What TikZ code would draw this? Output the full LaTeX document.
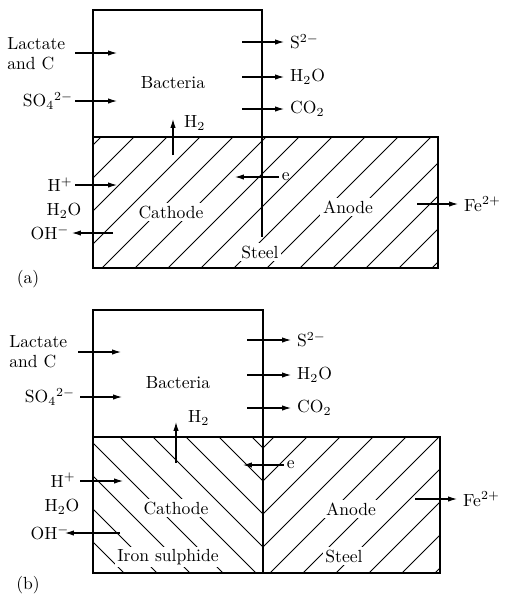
\documentclass[tikz,border=0pt]{standalone}
\usetikzlibrary{arrows.meta}

\begin{document}
\begin{tikzpicture}[x=0.02cm,y=-0.02cm,font=\fontsize{10}{11.5}\selectfont,
  >={Latex[length=5pt,width=3pt]},
  wall/.style={line width=1.1pt},
  hatch/.style={line width=0.5pt},
  flow/.style={->,line width=0.6pt},
  gap/.style={fill=white,inner sep=1.5pt},
  prod/.style={anchor=west}]
\useasboundingbox (0,0) rectangle (506,596);

% ---------- (a) ----------
\begin{scope}
  \clip (93,137) rectangle (438,268);
  \foreach \x in {-129,-96,...,432}
    \draw[hatch] (\x,268) -- ++(140,-140);
\end{scope}
\draw[wall] (93,137) rectangle (438,268);
\draw[wall] (93,137) -- (93,10) -- (262,10) -- (262,237);

\node (bacA) at (173,83) {Bacteria};
\node[gap] (catA) at (171,212) {Cathode};
\node[gap] (anoA) at (348,207) {Anode};
\node[gap] (steA) at (260,252) {Steel};
\node[align=left,anchor=west,inner sep=0pt] (lacA) at (7,54) {Lactate\\and C};
\node (so4A) at (48,101) {SO$_4{}^{2-}$};
\node (hpA) at (60,185) {H$^+$};
\node (h2oA) at (64,211) {H$_2$O};
\node (ohA) at (50,233) {OH$^-$};
\node[prod] (h2A) at (178,123) {H$_2$};
\node[prod] (s2A) at (284,42) {S$^{2-}$};
\node[prod] (wtA) at (284,77) {H$_2$O};
\node[prod] (co2A) at (284,109) {CO$_2$};
\node[prod,inner sep=1.5pt] (eA) at (279,177) {e};
\node[prod] (feA) at (458,204) {Fe$^{2+}$};
\node (capA) at (28,279) {(a)};

\coordinate (lacAt) at (75,53);   \coordinate (lacAh) at (117,53);
\coordinate (so4At) at (75,101);  \coordinate (so4Ah) at (117,101);
\coordinate (hpAt) at (75,185);   \coordinate (hpAh) at (117,185);
\coordinate (ohAt) at (113,233);  \coordinate (ohAh) at (72,233);
\coordinate (h2At) at (173,155);  \coordinate (h2Ah) at (173,119);
\coordinate (s2At) at (242,42);
\coordinate (wtAt) at (242,77);
\coordinate (co2At) at (242,109);
\coordinate (eAh) at (235,177);
\coordinate (feAt) at (417,204);

\draw[flow] (lacAt) -- (lacAh);
\draw[flow] (so4At) -- (so4Ah);
\draw[flow] (hpAt) -- (hpAh);
\draw[flow] (ohAt) -- (ohAh);
\draw[flow] (h2At) -- (h2Ah);
\draw[flow] (s2At) -- (s2A.west);
\draw[flow] (wtAt) -- (wtA.west);
\draw[flow] (co2At) -- (co2A.west);
\draw[flow] (eA.west) -- (eAh);
\draw[flow] (feAt) -- (feA.west);

% ---------- (b) ----------
\begin{scope}
  \clip (93,437) rectangle (440,573);
  \foreach \v in {448,481,...,778} {
    \draw[hatch] (263,\v) -- ++(-200,-200);
    \draw[hatch] (263,\v) -- ++(200,-200);
  }
\end{scope}
\draw[wall] (93,437) rectangle (440,573);
\draw[wall] (93,437) -- (93,310) -- (263,310) -- (263,573);

\node (bacB) at (178,383) {Bacteria};
\node[gap] (catB) at (176,508) {Cathode};
\node[gap] (irnB) at (168,557) {Iron sulphide};
\node[gap] (anoB) at (351,509) {Anode};
\node[gap] (steB) at (344,556) {Steel};
\node[align=left,anchor=west,inner sep=0pt] (lacB) at (9,352) {Lactate\\and C};
\node (so4B) at (50,397) {SO$_4{}^{2-}$};
\node (hpB) at (63,480) {H$^+$};
\node (h2oB) at (62,507) {H$_2$O};
\node (ohB) at (50,533) {OH$^-$};
\node[prod] (h2B) at (182,418) {H$_2$};
\node[prod] (s2B) at (291,340) {S$^{2-}$};
\node[prod] (wtB) at (291,375) {H$_2$O};
\node[prod] (co2B) at (291,408) {CO$_2$};
\node[prod,inner sep=1.5pt] (eB) at (284,465) {e};
\node[prod] (feB) at (457,499) {Fe$^{2+}$};
\node (capB) at (28,585) {(b)};

\coordinate (lacBt) at (78,352);  \coordinate (lacBh) at (121,352);
\coordinate (so4Bt) at (80,397);  \coordinate (so4Bh) at (122,397);
\coordinate (hpBt) at (80,481);   \coordinate (hpBh) at (123,481);
\coordinate (ohBt) at (120,533);  \coordinate (ohBh) at (65,533);
\coordinate (h2Bt) at (176,463);  \coordinate (h2Bh) at (176,422);
\coordinate (s2Bt) at (247,340);
\coordinate (wtBt) at (247,375);
\coordinate (co2Bt) at (247,408);
\coordinate (eBh) at (243,465);
\coordinate (feBt) at (415,499);

\draw[flow] (lacBt) -- (lacBh);
\draw[flow] (so4Bt) -- (so4Bh);
\draw[flow] (hpBt) -- (hpBh);
\draw[flow] (ohBt) -- (ohBh);
\draw[flow] (h2Bt) -- (h2Bh);
\draw[flow] (s2Bt) -- (s2B.west);
\draw[flow] (wtBt) -- (wtB.west);
\draw[flow] (co2Bt) -- (co2B.west);
\draw[flow] (eB.west) -- (eBh);
\draw[flow] (feBt) -- (feB.west);
\end{tikzpicture}
\end{document}
